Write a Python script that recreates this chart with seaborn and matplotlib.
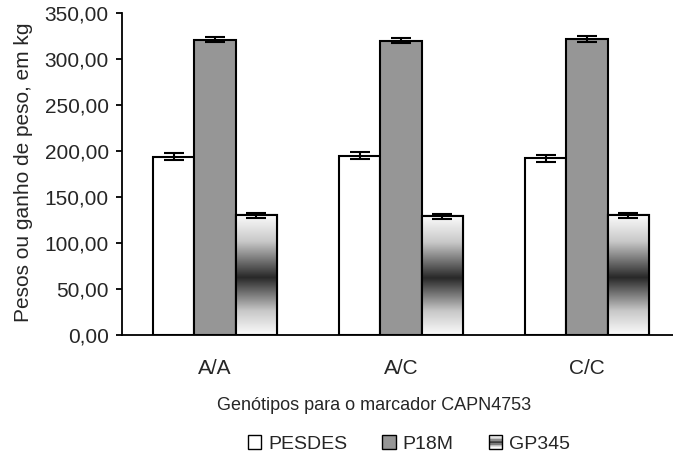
import numpy as np
import pandas as pd
import matplotlib
matplotlib.use('Agg')
import matplotlib.pyplot as plt
import seaborn as sns
from matplotlib.colors import LinearSegmentedColormap
from matplotlib.legend_handler import HandlerBase
from matplotlib.patches import Rectangle, Patch

# ---- data ----
genotypes = ['A/A', 'A/C', 'C/C']
series = ['PESDES', 'P18M', 'GP345']
pesdes = [194, 195, 192]
p18m = [321, 320, 322]
gp345 = [130, 129, 130]
pesdes_err = [3.5, 3.5, 4.0]
p18m_err = [3.0, 3.0, 3.0]
gp345_err = [2.5, 2.5, 2.5]
y_ticks = [0, 50, 100, 150, 200, 250, 300, 350]
x_title = 'Genótipos para o marcador CAPN4753'
y_title = 'Pesos ou ganho de peso, em kg'

sns.set_theme(style='white')
plt.rcParams['font.family'] = ['Liberation Sans', 'DejaVu Sans']
FS_TICK = 15
FS_YLAB = 15
FS_XLAB = 13
FS_LEG = 14

df = pd.DataFrame({
    'Genótipo': genotypes * 3,
    'Série': np.repeat(series, 3),
    'Valor': pesdes + p18m + gp345,
})

W, H = 673, 453
fig = plt.figure(figsize=(W / 100, H / 100), dpi=100)
ax = fig.add_axes([122 / W, (H - 335) / H, 558 / W, 322 / H])

sns.barplot(data=df, x='Genótipo', y='Valor', hue='Série', hue_order=series,
            order=genotypes, palette=['white', '#969696', 'white'], saturation=1,
            width=0.667, edgecolor='black', linewidth=1.5, errorbar=None,
            legend=False, ax=ax)

cmap = LinearSegmentedColormap.from_list(
    'grad', [(0, '#fbfbfb'), (0.22, '#c8c8c8'), (0.52, '#282828'),
             (0.8, '#c8c8c8'), (1, '#fbfbfb')])
grad = np.linspace(0, 1, 256).reshape(-1, 1)

errs = [pesdes_err, p18m_err, gp345_err]
bar_conts = list(ax.containers)
for k, cont in enumerate(bar_conts):
    xs, ys = [], []
    for bar in cont:
        xs.append(bar.get_x() + bar.get_width() / 2)
        ys.append(bar.get_height())
        if k == 2:
            x0, w, h = bar.get_x(), bar.get_width(), bar.get_height()
            im = ax.imshow(grad, extent=[x0, x0 + w, 0, h], aspect='auto',
                           cmap=cmap, origin='upper', zorder=bar.get_zorder() + 0.1,
                           interpolation='bilinear')
            im.set_clip_path(bar)
            ax.add_patch(Rectangle((x0, 0), w, h, facecolor='none',
                                   edgecolor='black', linewidth=1.5,
                                   zorder=bar.get_zorder() + 0.2))
    ax.errorbar(xs, ys, yerr=errs[k], fmt='none', ecolor='black',
                elinewidth=1.5, capsize=7, capthick=1.5, zorder=6)

ax.set_xlim(-0.5, 2.5)
ax.set_ylim(0, 350)
ax.set_yticks(y_ticks)
ax.set_yticklabels([f'{v:.2f}'.replace('.', ',') for v in y_ticks], fontsize=FS_TICK)
ax.set_xticks([0, 1, 2])
ax.set_xticklabels(genotypes, fontsize=FS_TICK)
ax.set_xticks([-0.5, 0.5, 1.5], minor=True)
ax.tick_params(axis='x', which='major', length=0, pad=17.5)
ax.tick_params(axis='x', which='minor', length=6, width=1.3, direction='out', color='black')
ax.tick_params(axis='y', length=4.5, width=1.3, direction='out', color='black', pad=5, left=True)
ax.set_xlabel('')
ax.set_ylabel('')
for s in ['top', 'right']:
    ax.spines[s].set_visible(False)
for s in ['left', 'bottom']:
    ax.spines[s].set_color('black')
    ax.spines[s].set_linewidth(1.3)
ax.set_facecolor('white')

fig.text(374 / W, 1 - 405.5 / H, x_title, ha='center', va='center', fontsize=FS_XLAB)
fig.text(24 / W, 1 - 172 / H, y_title, ha='center', va='center', rotation=90, fontsize=FS_YLAB)


class GradHandler(HandlerBase):
    def create_artists(self, legend, orig, xdescent, ydescent, width, height, fontsize, trans):
        arts = []
        n = 10
        cols = cmap(np.linspace(0, 1, n))
        for i in range(n):
            arts.append(Rectangle((-xdescent, -ydescent + height * (n - 1 - i) / n), width, height / n,
                                  facecolor=cols[i], edgecolor='none', transform=trans))
        arts.append(Rectangle((-xdescent, -ydescent), width, height, facecolor='none',
                              edgecolor='black', linewidth=1.0, transform=trans))
        return arts


h1 = Patch(facecolor='white', edgecolor='black', linewidth=1.0)
h2 = Patch(facecolor='#969696', edgecolor='black', linewidth=1.0)
h3 = Patch(facecolor='white', edgecolor='black')
fig.legend([h1, h2, h3], series, loc='center', bbox_to_anchor=(409 / W, 1 - 444 / H),
           ncol=3, frameon=False, fontsize=FS_LEG, handlelength=0.7, handleheight=0.7,
           handletextpad=0.35, columnspacing=1.8, handler_map={h3: GradHandler()})

fig.savefig('out.png', dpi=100, facecolor='white')
